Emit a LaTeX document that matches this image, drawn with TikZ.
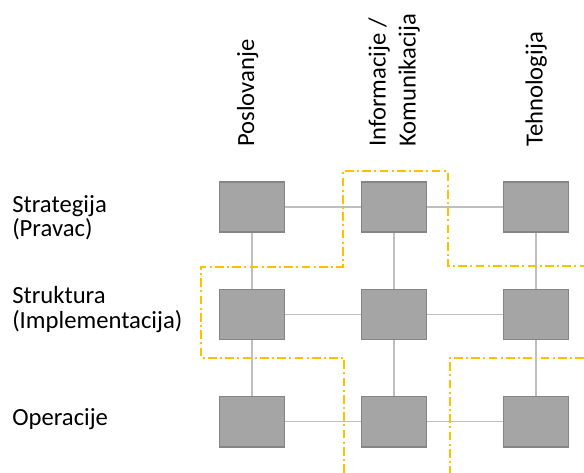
\documentclass[tikz,border=0pt]{standalone}
\usepackage{fontspec}
\setmainfont{Carlito}
\usetikzlibrary{positioning}
\definecolor{boxfill}{HTML}{A5A5A5}
\definecolor{boxline}{HTML}{858585}
\definecolor{linkgray}{HTML}{BFBFBF}
\definecolor{zonegold}{HTML}{FFC000}

\begin{document}
\begin{tikzpicture}[x=0.75pt, y=-0.75pt, node distance={106.5pt},
  box/.style = {draw=boxline, fill=boxfill, line width=1.1pt, minimum width=49pt, minimum height=37.8pt, inner sep=0pt},
  link/.style = {draw=linkgray, line width=0.8pt},
  zone/.style = {draw=zonegold, line width=1.3pt, dash pattern=on 6.5pt off 2.5pt on 1.5pt off 2.5pt},
  lbl/.style = {font=\fontsize{18.5}{18.5}\selectfont, align=left, inner sep=0pt}]
  \useasboundingbox (0,0) rectangle (584,473);

  \node[box] (s1) at (252,207) {};
  \node[box] (s2) [right of=s1] {};
  \node[box] (s3) [right of=s2] {};
  \node[box] (i1) [below of=s1, node distance=80.6pt] {};
  \node[box] (i2) [right of=i1] {};
  \node[box] (i3) [right of=i2] {};
  \node[box] (o1) [below of=i1, node distance=80.6pt] {};
  \node[box] (o2) [right of=o1] {};
  \node[box] (o3) [right of=o2] {};

  \draw[link] (s1) -- (s2);
  \draw[link] (s2) -- (s3);
  \draw[link] (i1) -- (i2);
  \draw[link] (i2) -- (i3);
  \draw[link] (o1) -- (o2);
  \draw[link] (o2) -- (o3);
  \draw[link] (s1) -- (i1);
  \draw[link] (i1) -- (o1);
  \draw[link] (s2) -- (i2);
  \draw[link] (i2) -- (o2);
  \draw[link] (s3) -- (i3);
  \draw[link] (i3) -- (o3);

  \draw[zone] (344,473) -- (344,357.7) -- (200.7,357.7) -- (200.7,266.7) -- (342.7,266.7)
    -- (342.7,171.3) -- (447.7,171.3) -- (447.7,266) -- (584,266);
  \draw[zone] (584,357.7) -- (450,357.7) -- (450,473);

  \node[lbl, anchor=base west] (strat) at (12,236.7) {Strategija\\(Pravac)};
  \node[lbl, anchor=base west] (struk) at (12,328) {Struktura\\(Implementacija)};
  \node[lbl, anchor=base west] (oper) at (12,425) {Operacije};

  \node[lbl, rotate=90, anchor=base west] (posl) at (254,147) {Poslovanje};
  \node[lbl, rotate=90, anchor=base west, font=\fontsize{18.5}{22.5}\selectfont] (info) at (415.5,147) {Informacije /\\Komunikacija};
  \node[lbl, rotate=90, anchor=base west] (tehn) at (542.5,147) {Tehnologija};
\end{tikzpicture}
\end{document}
